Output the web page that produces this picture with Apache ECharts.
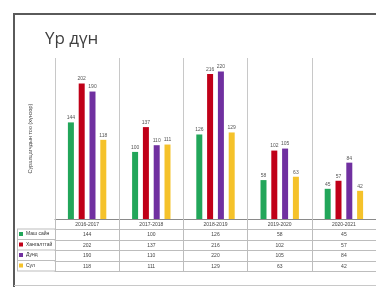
<!DOCTYPE html>
<html><head><meta charset="utf-8">
<script src="https://cdn.jsdelivr.net/npm/echarts@6/dist/echarts.min.js"></script>
<style>html,body{margin:0;padding:0;background:#fff;overflow:hidden}#c{width:376px;height:287px}</style>
</head><body><div id="c"></div>
<script>
const categories = ['2016-2017', '2017-2018', '2018-2019', '2019-2020', '2020-2021'];
const seriesNames = ['Маш сайн', 'Хангалттай', 'Дунд', 'Сул'];
const greenValues = [144, 100, 126, 58, 45];
const redValues = [202, 137, 216, 102, 57];
const purpleValues = [190, 110, 220, 105, 84];
const yellowValues = [118, 111, 129, 63, 42];
const colors = ['#22a65a', '#c00018', '#7030a0', '#f5c22a'];
const valueRows = [greenValues, redValues, purpleValues, yellowValues];

const chart = echarts.init(document.getElementById('c'), null, {renderer: 'canvas'});
const rowH = 10.5;
const font = 'Liberation Sans';
const xAxes = [{
  type: 'category', data: categories, position: 'bottom',
  axisLine: {lineStyle: {color: '#8a8a8a', width: 1}},
  axisTick: {show: true, length: rowH, lineStyle: {color: '#bdbdbd'}},
  axisLabel: {fontSize: 5, color: '#444', margin: 3, fontFamily: font},
  splitLine: {show: true, lineStyle: {color: '#c8c8c8', width: 1}}
}];
valueRows.forEach((arr, i) => {
  xAxes.push({
    type: 'category', data: categories, position: 'bottom', offset: rowH * (i + 1),
    axisLine: {lineStyle: {color: '#bdbdbd'}},
    axisTick: {show: true, length: rowH, lineStyle: {color: '#bdbdbd'}},
    axisLabel: {fontSize: 5, color: '#444', margin: 3, fontFamily: font,
      formatter: (v, idx) => String(arr[idx])},
    splitLine: {show: false}
  });
});
xAxes.push({
  type: 'category', data: categories, position: 'bottom', offset: rowH * 5,
  axisLine: {lineStyle: {color: '#bdbdbd'}}, axisTick: {show: false}, axisLabel: {show: false}
});

const series = valueRows.map((arr, i) => ({
  name: seriesNames[i], type: 'bar', data: arr, barWidth: 6, barGap: '80%',
  itemStyle: {color: colors[i]},
  label: {show: true, position: 'top', fontSize: 5, color: '#555', distance: 2, fontFamily: font}
}));

const rowLines = [];
for (let r = 0; r <= 4; r++) {
  rowLines.push({type: 'line', shape: {x1: 17, y1: 229 + r * rowH, x2: 55, y2: 229 + r * rowH},
    style: {stroke: '#bdbdbd', lineWidth: 1}, silent: true});
}
rowLines.push({type: 'line', shape: {x1: 17.5, y1: 229, x2: 17.5, y2: 271}, style: {stroke: '#bdbdbd', lineWidth: 1}});
rowLines.push({type: 'line', shape: {x1: 55.5, y1: 58, x2: 55.5, y2: 219}, style: {stroke: '#c8c8c8', lineWidth: 1}});

chart.setOption({
  animation: false,
  title: {text: 'Үр дүн', left: 40, top: 26,
    textStyle: {fontSize: 17, fontWeight: 'normal', color: '#404040', fontFamily: 'Open Sans'}},
  grid: {left: 55, top: 58, width: 330, bottom: 68},
  legend: {orient: 'vertical', left: 19, top: 231.5, padding: 0, itemWidth: 4, itemHeight: 4, itemGap: 5.5,
    icon: 'rect', data: seriesNames, textStyle: {fontSize: 5, lineHeight: 5, color: '#333', fontFamily: font, padding: [0,0,0,-2]}},
  xAxis: xAxes,
  yAxis: {type: 'value', min: 0, max: 240, show: true,
    name: 'Суралцагчдын тоо (хүнээр)', nameLocation: 'middle', nameGap: 22, nameRotate: 90,
    nameTextStyle: {fontSize: 5.5, color: '#444', fontFamily: font},
    axisLine: {show: false}, axisTick: {show: false}, axisLabel: {show: false}, splitLine: {show: false}},
  series: series,
  graphic: [
    {type: 'polyline', shape: {points: [[380, 14], [14, 14], [14, 290]]},
      style: {fill: 'none', stroke: '#5a5a5a', lineWidth: 2}, silent: true},
    {type: 'line', shape: {x1: 14, y1: 285.5, x2: 380, y2: 285.5},
      style: {stroke: '#c8c8c8', lineWidth: 1}, silent: true}
  ].concat(rowLines)
});
</script></body></html>
